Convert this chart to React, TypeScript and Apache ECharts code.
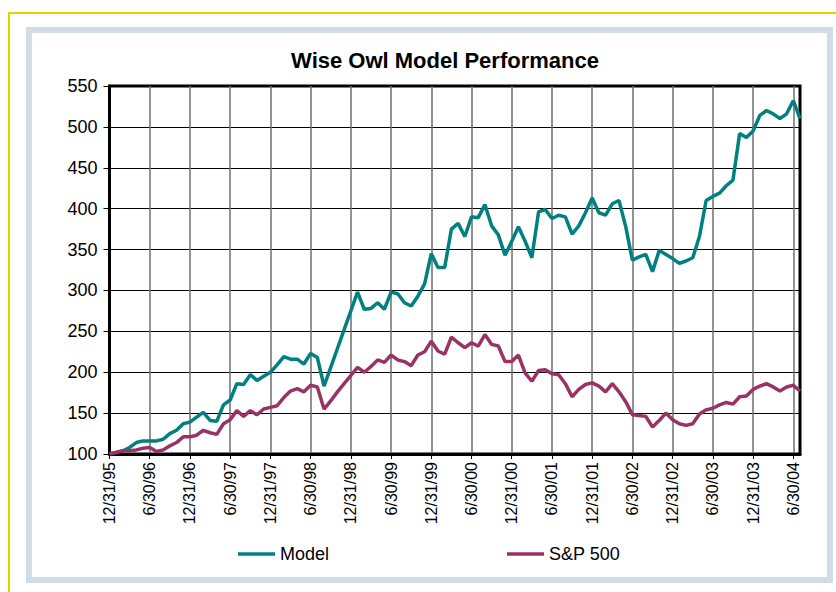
import React, { useEffect, useRef } from "react";
import * as echarts from "echarts";

const title = "Wise Owl Model Performance";
const seriesNames = ["Model", "S&P 500"];

const tickLabels = [
  "12/31/95", "6/30/96", "12/31/96", "6/30/97", "12/31/97", "6/30/98",
  "12/31/98", "6/30/99", "12/31/99", "6/30/00", "12/31/00", "6/30/01",
  "12/31/01", "6/30/02", "12/31/02", "6/30/03", "12/31/03", "6/30/04",
];

// Month-end dates from 12/31/95 to 7/31/04 (104 months)
const monthEnds = [31, 28, 31, 30, 31, 30, 31, 31, 30, 31, 30, 31];
const categories: string[] = [];
for (let k = 0; k < 104; k++) {
  const m = (11 + k) % 12;
  const y = 95 + Math.floor((11 + k) / 12);
  const yy = y % 100;
  let d = monthEnds[m];
  if (m === 1) d = yy % 4 === 0 ? 29 : 28;
  categories.push(`${m + 1}/${d}/${String(yy).padStart(2, "0")}`);
}

const modelValues = [
  100, 102, 104, 108, 114, 116, 116, 116, 118, 125, 129, 137,
  139, 145, 151, 141, 140, 160, 166, 186, 185, 197, 190, 195,
  200, 209, 219, 216, 216, 210, 223, 218, 183, 206, 229, 252,
  275, 298, 277, 278, 285, 277, 298, 296, 285, 281, 293, 308,
  345, 328, 328, 375, 382, 366, 390, 389, 405, 379, 368, 343,
  360, 378, 360, 340, 396, 399, 388, 392, 390, 369, 379, 395,
  413, 395, 392, 406, 410, 378, 337, 341, 344, 323, 349, 344,
  339, 333, 336, 340, 366, 410, 415, 419, 428, 435, 492, 487,
  495, 514, 520, 516, 510, 516, 532, 510,
];

const spValues = [
  100, 102, 104, 104, 105, 107, 108, 103, 105, 110, 114, 121,
  121, 123, 129, 126, 124, 137, 142, 153, 146, 153, 148, 155,
  157, 159, 169, 177, 180, 176, 184, 182, 155, 165, 176, 186,
  196, 206, 200, 207, 215, 212, 221, 215, 213, 208, 221, 225,
  238, 226, 222, 243, 236, 230, 236, 232, 246, 234, 232, 213,
  213, 221, 199, 189, 202, 203, 198, 197, 186, 170, 179, 185,
  187, 183, 176, 186, 176, 164, 148, 147, 146, 133, 141, 150,
  142, 137, 135, 137, 149, 154, 156, 160, 163, 161, 170, 171,
  179, 183, 186, 182, 177, 182, 184, 177,
];

const tickSet = new Set(tickLabels);

const FONT = "'Liberation Sans', Arial, Helvetica, sans-serif";

export default function App() {
  const ref = useRef<HTMLDivElement>(null);
  useEffect(() => {
    document.body.style.margin = "0";
    if (!ref.current) return;
    const chart = echarts.init(ref.current, undefined, { renderer: "svg" });
    chart.setOption({
      animation: false,
      backgroundColor: "#ffffff",
      textStyle: { fontFamily: FONT },
      graphic: [
        {
          type: "rect",
          shape: { x: 9, y: 13, width: 900, height: 700 },
          style: { fill: "none", stroke: "#e2d200", lineWidth: 2 },
          silent: true,
          z: -10,
        },
        {
          type: "rect",
          shape: { x: 29, y: 30, width: 801, height: 550 },
          style: { fill: "none", stroke: "#d0dce8", lineWidth: 6 },
          silent: true,
          z: -10,
        },
      ],
      title: {
        text: title,
        left: 440,
        top: 44,
        textAlign: "center",
        textStyle: { fontFamily: FONT, fontSize: 22, fontWeight: "bold", color: "#000" },
      },
      legend: {
        data: seriesNames,
        left: 233,
        top: 540,
        icon: "rect",
        itemWidth: 37,
        itemHeight: 3.5,
        itemGap: 178,
        textStyle: { fontFamily: FONT, fontSize: 18, color: "#000" },
      },
      grid: {
        left: 109.5,
        right: 36,
        top: 86,
        bottom: 138,
        show: true,
        borderColor: "#000",
        borderWidth: 3,
        containLabel: false,
      },
      xAxis: {
        type: "category",
        data: categories,
        boundaryGap: false,
        axisLine: { lineStyle: { color: "#000", width: 3 } },
        axisTick: { interval: 5, length: 5, lineStyle: { color: "#000", width: 1 } },
        axisLabel: {
          interval: 5,
          rotate: 90,
          margin: 8,
          fontSize: 16,
          fontFamily: FONT,
          color: "#000",
          formatter: (v: string) => (tickSet.has(v) ? v : v),
        },
        splitLine: { show: true, interval: 5, lineStyle: { color: "#6e6e6e", width: 1.5 } },
      },
      yAxis: {
        type: "value",
        min: 100,
        max: 550,
        interval: 50,
        axisLine: { show: true, lineStyle: { color: "#000", width: 3 } },
        axisTick: { show: true, length: 6, lineStyle: { color: "#000", width: 1 } },
        axisLabel: { margin: 12, fontSize: 18, fontFamily: FONT, color: "#000" },
        splitLine: { show: true, lineStyle: { color: "#000", width: 1 } },
      },
      series: [
        {
          name: seriesNames[0],
          type: "line",
          data: modelValues,
          symbol: "none",
          lineStyle: { color: "#008080", width: 3.5 },
          itemStyle: { color: "#008080" },
        },
        {
          name: seriesNames[1],
          type: "line",
          data: spValues,
          symbol: "none",
          lineStyle: { color: "#993366", width: 3.5 },
          itemStyle: { color: "#993366" },
        },
      ],
    });
    return () => chart.dispose();
  }, []);
  return (
    <div
      ref={ref}
      style={{ position: "absolute", left: 0, top: 0, width: 836, height: 592 }}
    />
  );
}
